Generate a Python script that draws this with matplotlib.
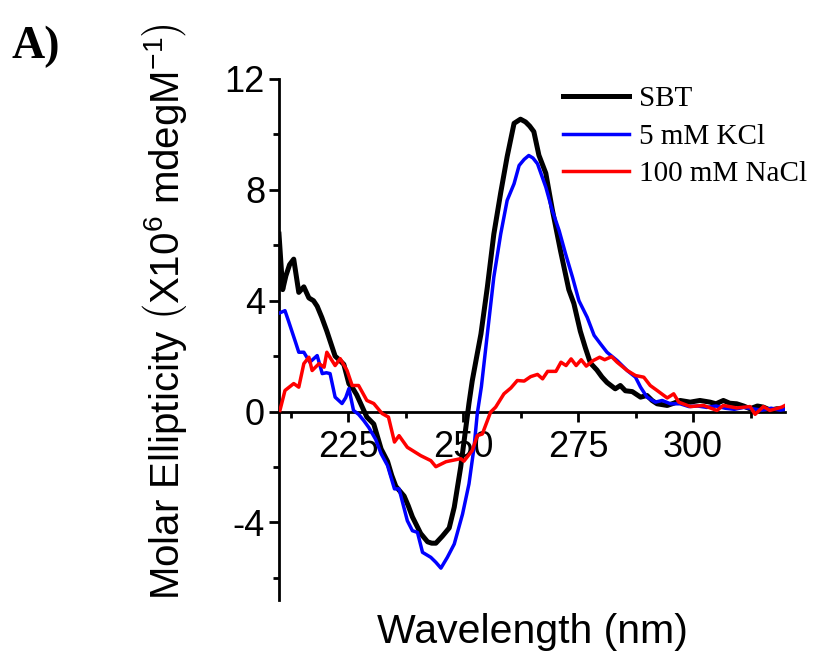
import numpy as np
import matplotlib
matplotlib.use('Agg')
import matplotlib.pyplot as plt
from matplotlib.ticker import MultipleLocator

plt.rcParams['font.family'] = 'Liberation Sans'
plt.rcParams['mathtext.fontset'] = 'custom'
plt.rcParams['mathtext.rm'] = 'Liberation Sans'
plt.rcParams['mathtext.it'] = 'Liberation Sans:italic'
plt.rcParams['axes.unicode_minus'] = False

# CD spectra, units x10^6 mdeg M^-1
wl_sbt = [210, 210.8, 211.5, 212.3, 213.2, 214.3, 215.4, 216.5, 217.5, 218.3,
          219.3, 220.4, 221.3, 222.2, 223.2, 224.1, 225.2, 226.0, 226.9, 228.0,
          229.1, 230.6, 232.2, 233.6, 234.5, 235.4, 237.2, 238.1, 239.0, 240.8,
          242.3, 243.2, 244.1, 245.5, 247.0, 248.1, 249.5, 250.6, 251.3, 252.0,
          253.0, 253.9, 255.3, 256.7, 258.2, 259.6, 261.1, 262.5, 263.6, 264.5,
          265.4, 266.5, 268.0, 269.4, 271.2, 273.0, 274.1, 275.5, 276.6, 277.7,
          279.1, 280.2, 281.3, 283.1, 284.2, 285.3, 286.8, 288.6, 290.0, 291.1,
          292.2, 294.4, 295.8, 297.2, 299.4, 301.5, 303.7, 305.0, 306.6, 308.0,
          309.5, 311.0, 312.4, 314.0, 315.3, 316.8, 318.2, 320.0]
sbt = [6.4, 4.4, 4.9, 5.3, 5.5, 4.3, 4.5, 4.1, 4.0, 3.8,
       3.4, 2.9, 2.45, 2.0, 1.85, 1.7, 1.0, 0.85, 0.6, 0.2,
       -0.2, -0.45, -1.35, -1.8, -2.3, -2.7, -3.05, -3.4, -3.8, -4.4,
       -4.7, -4.75, -4.75, -4.5, -4.2, -3.45, -2.0, -0.6, 0.3, 1.1,
       2.0, 2.8, 4.5, 6.4, 7.9, 9.2, 10.4, 10.55, 10.45, 10.3,
       10.1, 9.25, 8.6, 7.3, 5.8, 4.4, 3.9, 2.9, 2.3, 1.75,
       1.5, 1.25, 1.05, 0.82, 0.94, 0.75, 0.72, 0.52, 0.58, 0.4,
       0.28, 0.22, 0.3, 0.4, 0.34, 0.4, 0.34, 0.28, 0.4, 0.3,
       0.28, 0.2, 0.1, 0.2, 0.16, 0.05, 0.1, 0.1]

wl_kcl = [210, 211.3, 212.0, 212.8, 213.6, 214.3, 215.4, 216.7, 217.5, 218.3,
          219.4, 220.3, 221.1, 222.2, 223.7, 224.5, 225.2, 226.2, 227.3, 228.4,
          229.5, 231.0, 232.2, 233.6, 235.1, 236.1, 237.9, 239.0, 240.1, 241.2,
          243.0, 244.1, 245.2, 246.6, 248.1, 249.9, 251.3, 252.4, 253.1, 254.0,
          255.3, 256.7, 258.2, 259.6, 261.1, 262.2, 263.3, 264.3, 265.2, 266.2,
          268.0, 269.4, 270.9, 272.3, 273.8, 275.2, 277.0, 278.5, 279.9, 281.3,
          283.5, 285.7, 287.5, 288.6, 290.0, 291.8, 293.3, 295.1, 297.2, 299.1,
          301.0, 303.0, 305.0, 307.0, 309.0, 311.0, 313.0, 315.0, 317.0, 319.0,
          320.0]
kcl = [3.55, 3.64, 3.3, 2.9, 2.5, 2.14, 2.14, 1.78, 1.9, 2.02,
       1.37, 1.4, 1.37, 0.52, 0.29, 0.5, 0.83, 0.04, -0.1, -0.32,
       -0.57, -1.0, -1.52, -1.95, -2.79, -2.79, -3.94, -4.3, -4.36, -5.08,
       -5.26, -5.44, -5.65, -5.26, -4.78, -3.7, -2.61, -1.29, -0.08, 0.9,
       2.81, 4.85, 6.41, 7.62, 8.22, 8.88, 9.1, 9.24, 9.15, 8.94,
       8.1, 7.26, 6.53, 5.69, 4.85, 4.0, 3.4, 2.75, 2.44, 2.14,
       1.84, 1.48, 1.24, 0.88, 0.52, 0.34, 0.4, 0.28, 0.28, 0.18,
       0.2, 0.15, 0.2, 0.12, 0.08, 0.15, 0.1, 0.05, 0.12, 0.05,
       0.08]

wl_nacl = [210.2, 211.3, 213.2, 214.3, 215.4, 216.5, 217.2, 218.7, 219.8, 220.4,
           222.2, 223.3, 224.8, 225.9, 227.3, 229.1, 230.6, 232.4, 233.8, 235.1,
           236.1, 237.9, 240.8, 243.0, 244.1, 246.3, 249.5, 250.2, 252.0, 253.1,
           254.2, 256.0, 257.1, 258.9, 260.4, 261.8, 263.3, 264.7, 266.2, 267.3,
           268.4, 270.2, 271.3, 272.4, 273.5, 274.6, 275.7, 276.8, 278.3, 279.7,
           280.8, 282.3, 283.5, 285.7, 287.5, 289.3, 290.7, 292.2, 294.4, 295.8,
           296.9, 299.4, 302.3, 305.2, 306.6, 309.5, 312.4, 313.5, 315.3, 316.7,
           319.3, 320.0]
nacl = [0.04, 0.76, 1.01, 0.88, 1.73, 1.96, 1.48, 1.73, 1.6, 2.14,
        1.66, 1.91, 1.48, 0.94, 0.94, 0.4, 0.29, -0.07, -0.2, -1.1,
        -0.87, -1.29, -1.59, -1.77, -1.99, -1.81, -1.7, -1.79, -1.41, -0.87,
        -0.81, -0.02, 0.16, 0.64, 0.85, 1.12, 1.1, 1.26, 1.34, 1.18,
        1.45, 1.45, 1.78, 1.66, 1.9, 1.66, 1.87, 1.64, 1.84, 1.96,
        1.87, 1.98, 1.78, 1.48, 1.3, 1.24, 0.94, 0.76, 0.49, 0.64,
        0.34, 0.18, 0.22, 0.04, 0.22, 0.13, 0.18, -0.1, 0.18, 0.04,
        0.16, 0.22]

labels = ['SBT', '5 mM KCl', '100 mM NaCl']

fig = plt.figure(figsize=(8.23, 6.58), dpi=100)
ax = fig.add_axes([279/823, 1-600/658, (785-279)/823, (600-79)/658])

ax.plot(wl_sbt, sbt, color='black', lw=3.6, label=labels[0], zorder=3)
ax.plot(wl_kcl, kcl, color='#0000ff', lw=2.5, label=labels[1], zorder=4)
ax.plot(wl_nacl, nacl, color='#ff0000', lw=2.5, label=labels[2], zorder=5)

ax.set_xlim(210, 320)
ax.set_ylim(-6.8, 12)
ax.spines['top'].set_visible(False)
ax.spines['right'].set_visible(False)
ax.spines['bottom'].set_position(('data', 0))
ax.spines['left'].set_linewidth(2.0)
ax.spines['bottom'].set_linewidth(2.0)

ax.xaxis.set_major_locator(MultipleLocator(25))
ax.xaxis.set_minor_locator(MultipleLocator(12.5))
ax.yaxis.set_major_locator(MultipleLocator(4))
ax.yaxis.set_minor_locator(MultipleLocator(2))
ax.set_xticks([225, 250, 275, 300])
ax.tick_params(axis='both', which='major', direction='out', length=7, width=2.0, labelsize=26)
ax.tick_params(axis='both', which='minor', direction='out', length=4, width=2.0)
ax.tick_params(axis='x', pad=6)
ax.tick_params(axis='y', pad=3)

ax.set_xlabel('Wavelength (nm)', fontsize=29.5)
ax.xaxis.set_label_coords(0.5, -0.025)
fig.text(165/823, 1-312/658,
         r'Molar Ellipticity $\left(\mathrm{X10^{6}\ mdegM^{-1}}\right)$',
         rotation=90, ha='center', va='center', fontsize=29)

fig.text(12/823, 1-58/658, 'A)', fontsize=33, fontweight='bold', family='Liberation Serif')

ax.legend(loc='upper left', bbox_to_anchor=(563/823, 1-86/658), bbox_transform=fig.transFigure,
          frameon=False, prop={'family': 'Liberation Serif', 'size': 21},
          handlelength=2.25, handletextpad=0.35, labelspacing=0.38,
          borderpad=0, borderaxespad=0)

plt.savefig('out.png', dpi=100)
